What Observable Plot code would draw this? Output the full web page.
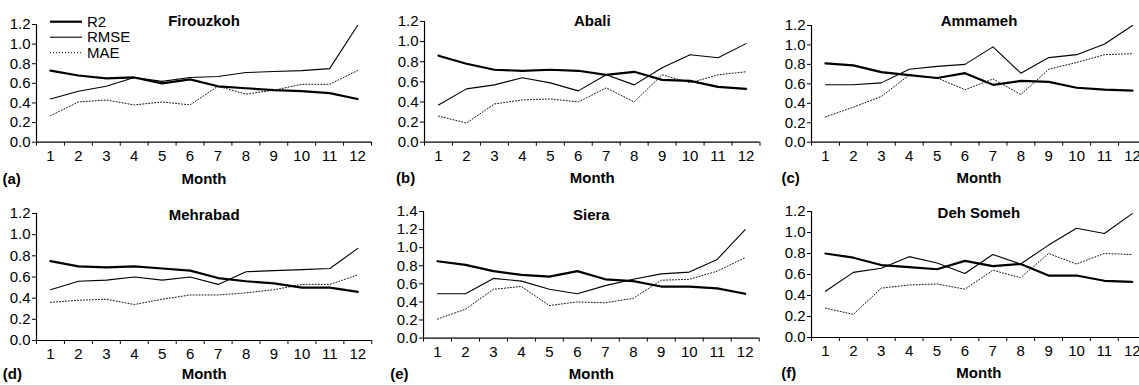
<!DOCTYPE html>
<html><head><meta charset="utf-8">
<script src="https://cdn.jsdelivr.net/npm/d3@7"></script>
<script src="https://cdn.jsdelivr.net/npm/@observablehq/plot@0.6"></script>
<style>
html,body{margin:0;padding:0;background:#fff;overflow:hidden;}
#wrap{position:relative;width:1139px;height:385px;overflow:hidden;font-family:"Liberation Sans",Arial,Helvetica,sans-serif;}
#wrap svg{position:absolute;}
</style></head><body><div id="wrap"></div>
<script>
// ---- data ----
const months = [1,2,3,4,5,6,7,8,9,10,11,12];
const stations = ["Firouzkoh","Abali","Ammameh","Mehrabad","Siera","Deh Someh"];
const panelLetters = ["(a)","(b)","(c)","(d)","(e)","(f)"];
const seriesNames = ["R2","RMSE","MAE"];
const yMax = [1.2,1.2,1.2,1.2,1.4,1.2];

const r2Firouzkoh   = [0.73,0.68,0.65,0.66,0.60,0.64,0.57,0.55,0.53,0.52,0.50,0.44];
const rmseFirouzkoh = [0.44,0.52,0.57,0.66,0.62,0.66,0.67,0.71,0.72,0.73,0.75,1.19];
const maeFirouzkoh  = [0.27,0.41,0.43,0.38,0.41,0.38,0.57,0.49,0.53,0.59,0.59,0.73];

const r2Abali   = [0.86,0.78,0.72,0.71,0.72,0.71,0.67,0.70,0.62,0.61,0.55,0.53];
const rmseAbali = [0.37,0.53,0.57,0.64,0.59,0.51,0.67,0.57,0.74,0.87,0.84,0.98];
const maeAbali  = [0.26,0.19,0.38,0.42,0.43,0.40,0.54,0.40,0.67,0.59,0.67,0.70];

const r2Ammameh   = [0.81,0.79,0.72,0.69,0.66,0.71,0.59,0.63,0.62,0.56,0.54,0.53];
const rmseAmmameh = [0.59,0.59,0.61,0.75,0.78,0.80,0.98,0.71,0.87,0.90,1.01,1.20];
const maeAmmameh  = [0.26,0.36,0.47,0.69,0.66,0.54,0.65,0.49,0.75,0.82,0.90,0.91];

const r2Mehrabad   = [0.75,0.70,0.69,0.70,0.68,0.66,0.59,0.56,0.54,0.50,0.50,0.46];
const rmseMehrabad = [0.48,0.56,0.57,0.60,0.57,0.60,0.53,0.65,0.66,0.67,0.68,0.87];
const maeMehrabad  = [0.36,0.38,0.39,0.34,0.39,0.43,0.43,0.45,0.48,0.53,0.53,0.62];

const r2Siera   = [0.85,0.81,0.74,0.70,0.68,0.74,0.65,0.63,0.57,0.57,0.55,0.49];
const rmseSiera = [0.49,0.49,0.66,0.63,0.54,0.49,0.58,0.65,0.71,0.73,0.87,1.20];
const maeSiera  = [0.21,0.32,0.54,0.57,0.36,0.40,0.39,0.44,0.64,0.65,0.74,0.89];

const r2DehSomeh   = [0.80,0.76,0.69,0.67,0.65,0.73,0.68,0.70,0.59,0.59,0.54,0.53];
const rmseDehSomeh = [0.44,0.62,0.66,0.77,0.71,0.61,0.79,0.70,0.88,1.04,0.99,1.18];
const maeDehSomeh  = [0.28,0.22,0.47,0.50,0.51,0.46,0.64,0.57,0.80,0.70,0.80,0.79];

const r2All   = [r2Firouzkoh, r2Abali, r2Ammameh, r2Mehrabad, r2Siera, r2DehSomeh];
const rmseAll = [rmseFirouzkoh, rmseAbali, rmseAmmameh, rmseMehrabad, rmseSiera, rmseDehSomeh];
const maeAll  = [maeFirouzkoh, maeAbali, maeAmmameh, maeMehrabad, maeSiera, maeDehSomeh];

// ---- layout (page px) ----
const layout = [
  {L:36,    R:371,  T:24,    B:141.7, titleY:21,  monthY:179, letterX:2},
  {L:423.5, R:759,  T:21,    B:141.7, titleY:21,  monthY:178, letterX:395},
  {L:811,   R:1146, T:25,    B:141.7, titleY:21,  monthY:178, letterX:781},
  {L:35.7,  R:371,  T:212.5, B:339.5, titleY:214, monthY:373, letterX:2},
  {L:423.3, R:759,  T:210.7, B:337.3, titleY:214, monthY:373, letterX:390},
  {L:811.3, R:1146, T:211,   B:337,   titleY:213, monthY:373, letterX:781}
];
const FONT = '"Liberation Sans", Arial, Helvetica, sans-serif';
const wrap = document.getElementById("wrap");

function panel(i){
  const g = layout[i];
  const ML = 42, MR = 14, MT = 30, MB = 50;
  const width = ML + (g.R - g.L) + MR;
  const height = MT + (g.B - g.T) + MB;
  const ticksY = d3.range(0, yMax[i] + 1e-9, 0.2).map(v => +v.toFixed(1));
  const bounds = d3.range(0.5, 13, 1);
  const table = months.map((m, k) => ({month: m, r2: r2All[i][k], rmse: rmseAll[i][k], mae: maeAll[i][k]}));
  const svg = Plot.plot({
    width, height,
    marginLeft: ML, marginRight: MR, marginTop: MT, marginBottom: MB,
    style: {fontSize: "15px", fontFamily: FONT, background: "transparent", overflow: "visible", color: "#000"},
    x: {type: "linear", domain: [0.5, 12.5]},
    y: {type: "linear", domain: [0, yMax[i]]},
    marks: [
      Plot.axisY(ticksY, {tickSize: 4, tickPadding: 2, tickFormat: d3.format(".1f"), label: null, strokeWidth: 1}),
      Plot.axisX(bounds, {tickSize: 4, tickFormat: () => "", label: null}),
      Plot.axisX(months, {tickSize: 0, tickPadding: 8, tickFormat: d => String(d), label: null}),
      Plot.ruleY([0], {stroke: "#000", strokeWidth: 1.2}),
      Plot.ruleX([0.5], {stroke: "#000", strokeWidth: 1.2}),
      Plot.line(table, {x: "month", y: "mae", stroke: "#111", strokeWidth: 1, strokeDasharray: "1,2"}),
      Plot.line(table, {x: "month", y: "rmse", stroke: "#000", strokeWidth: 1.1}),
      Plot.line(table, {x: "month", y: "r2", stroke: "#000", strokeWidth: 2.2}),
      Plot.text([stations[i]], {frameAnchor: "top", dy: g.titleY - g.T, fontWeight: "bold", lineAnchor: "middle", fontSize: 15}),
      Plot.text(["Month"], {frameAnchor: "bottom", dy: g.monthY - g.B, fontWeight: "bold", lineAnchor: "middle", fontSize: 15}),
      Plot.text([panelLetters[i]], {frameAnchor: "bottom-left", dx: g.letterX - g.L, dy: g.monthY - g.B, textAnchor: "start", fontWeight: "bold", lineAnchor: "middle", fontSize: 15})
    ]
  });
  svg.style.left = (g.L - ML) + "px";
  svg.style.top = (g.T - MT) + "px";
  wrap.appendChild(svg);
}
for (let i = 0; i < 6; i++) panel(i);

// ---- legend (panel a) ----
const legendStyles = [
  {w: 2.2, dash: null},
  {w: 1.1, dash: null},
  {w: 1, dash: "1,2"}
];
const leg = d3.create("svg").attr("width", 140).attr("height", 60)
  .style("left", "40px").style("top", "6px").style("font-family", FONT).style("font-size", "15px");
seriesNames.forEach((name, k) => {
  const y = 15.7 + k * 15.5;
  leg.append("line").attr("x1", 10).attr("x2", 42).attr("y1", y).attr("y2", y)
    .attr("stroke", "#000").attr("stroke-width", legendStyles[k].w)
    .attr("stroke-dasharray", legendStyles[k].dash);
  leg.append("text").attr("x", 47).attr("y", y).attr("dy", "0.35em").text(name);
});
wrap.appendChild(leg.node());
</script>
</body></html>
